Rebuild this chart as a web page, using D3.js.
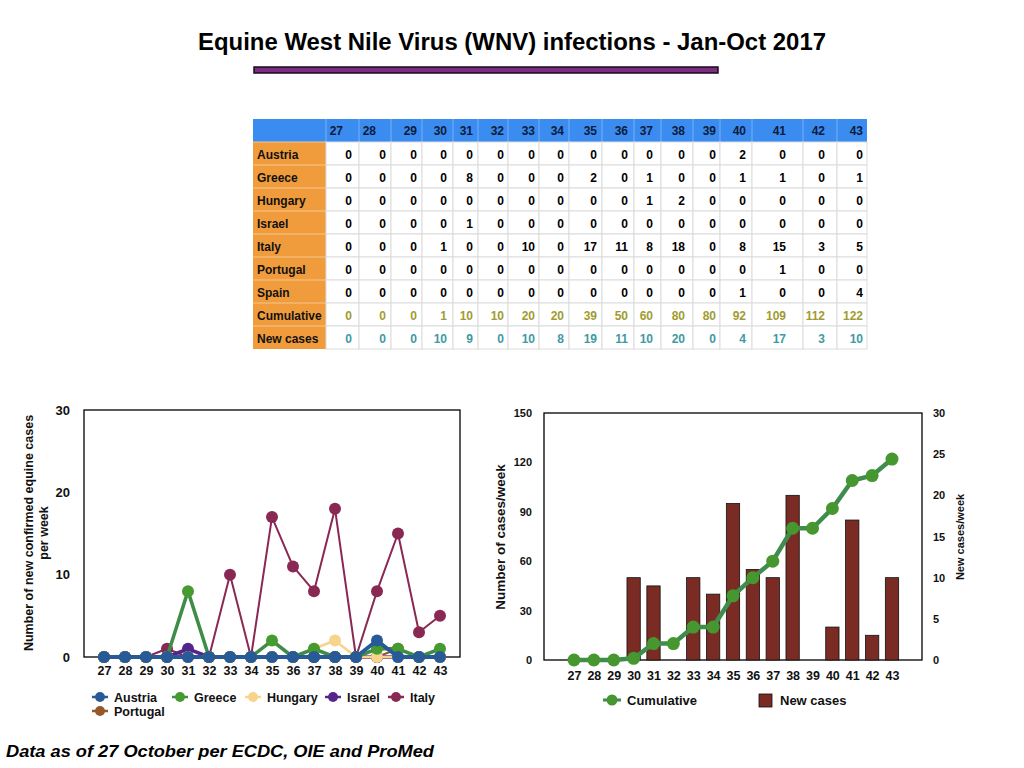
<!DOCTYPE html>
<html><head><meta charset="utf-8">
<script src="https://cdn.jsdelivr.net/npm/d3@7"></script>
<style>
html,body{margin:0;padding:0;background:#fff;}
svg{display:block;font-family:"Liberation Sans",Arial,Helvetica,sans-serif;font-weight:bold;}
</style></head>
<body>
<svg id="c" width="1024" height="768"></svg>
<script>
// ---------- DATA ----------
const weeks = ["27","28","29","30","31","32","33","34","35","36","37","38","39","40","41","42","43"];
const austria  = [0,0,0,0,0,0,0,0,0,0,0,0,0,2,0,0,0];
const greece   = [0,0,0,0,8,0,0,0,2,0,1,0,0,1,1,0,1];
const hungary  = [0,0,0,0,0,0,0,0,0,0,1,2,0,0,0,0,0];
const israel   = [0,0,0,0,1,0,0,0,0,0,0,0,0,0,0,0,0];
const italy    = [0,0,0,1,0,0,10,0,17,11,8,18,0,8,15,3,5];
const portugal = [0,0,0,0,0,0,0,0,0,0,0,0,0,0,1,0,0];
const spain    = [0,0,0,0,0,0,0,0,0,0,0,0,0,1,0,0,4];
const cumulative = [0,0,0,1,10,10,20,20,39,50,60,80,80,92,109,112,122];
const newCases   = [0,0,0,10,9,0,10,8,19,11,10,20,0,4,17,3,10];
const leftTicks  = [0,10,20,30];
const rightLTicks = [0,30,60,90,120,150];
const rightRTicks = [0,5,10,15,20,25,30];

const title = "Equine West Nile Virus (WNV) infections - Jan-Oct 2017";
const footer = "Data as of 27 October per ECDC, OIE and ProMed";

// ---------- LAYOUT ----------
const svg = d3.select("#c");

// Title
svg.append("text").attr("x",512).attr("y",50).attr("text-anchor","middle")
  .attr("font-size",23).attr("textLength",628).attr("lengthAdjust","spacingAndGlyphs")
  .attr("fill","#000").text(title);
svg.append("rect").attr("x",254).attr("y",67).attr("width",464).attr("height",6)
  .attr("fill","#7b2d82").attr("stroke","#1a0a1a").attr("stroke-width",1.5);

// ---------- TABLE ----------
const tableRows = [
  {name:"Austria", vals:austria, color:"#000"},
  {name:"Greece", vals:greece, color:"#000"},
  {name:"Hungary", vals:hungary, color:"#000"},
  {name:"Israel", vals:israel, color:"#000"},
  {name:"Italy", vals:italy, color:"#000"},
  {name:"Portugal", vals:portugal, color:"#000"},
  {name:"Spain", vals:spain, color:"#000"},
  {name:"Cumulative", vals:cumulative, color:"#a09c32"},
  {name:"New cases", vals:newCases, color:"#3e9aa4"}
];
const colEdges = [253,326,359,391,422,453,478,508,539,569,602,634,661,693,720,752,803,837,867];
const colTextX = [352,386,417,447,473,504,535,564,597,628,653,685,716,746,786,825,863];
const headTextX = [343,376,417,447,473,504,535,564,597,628,653,685,716,746,786,825,863];
const tTop = 119, hH = 23, rH = 23;
const tbl = svg.append("g").attr("font-size",12);
// header
tbl.append("rect").attr("x",colEdges[0]).attr("y",tTop).attr("width",colEdges[colEdges.length-1]-colEdges[0])
  .attr("height",hH).attr("fill","#3a8cf0");
weeks.forEach((w,i)=>{
  if(i>0) tbl.append("line").attr("x1",colEdges[i+1]).attr("x2",colEdges[i+1]).attr("y1",tTop).attr("y2",tTop+hH)
    .attr("stroke","#78b0f5").attr("stroke-width",1);
  tbl.append("text").attr("x",headTextX[i]).attr("y",tTop+16).attr("text-anchor","end").attr("fill","#0d1a3a").text(w);
});
tbl.append("line").attr("x1",colEdges[1]).attr("x2",colEdges[1]).attr("y1",tTop).attr("y2",tTop+hH)
    .attr("stroke","#78b0f5");
// body
tableRows.forEach((r,ri)=>{
  const y0 = tTop+hH+ri*rH;
  tbl.append("rect").attr("x",colEdges[0]).attr("y",y0).attr("width",colEdges[1]-colEdges[0]).attr("height",rH)
    .attr("fill","#f09c3c");
  tbl.append("line").attr("x1",colEdges[0]).attr("x2",colEdges[1]).attr("y1",y0).attr("y2",y0)
    .attr("stroke","#f6c690").attr("stroke-width",1);
  tbl.append("text").attr("x",257).attr("y",y0+17).attr("fill","#111").text(r.name);
  r.vals.forEach((v,ci)=>{
    tbl.append("rect").attr("x",colEdges[ci+1]).attr("y",y0).attr("width",colEdges[ci+2]-colEdges[ci+1]).attr("height",rH)
      .attr("fill","#fff").attr("stroke","#dcdcdc").attr("stroke-width",1);
    tbl.append("text").attr("x",colTextX[ci]).attr("y",y0+17).attr("text-anchor","end").attr("fill",r.color).text(v);
  });
});

// ---------- LEFT CHART ----------
const L = {left:84,right:460,top:410,bottom:657};
const xL = d3.scalePoint().domain(weeks).range([104,440]);
const yL = d3.scaleLinear().domain([0,30]).range([L.bottom,L.top]);
const gL = svg.append("g");
gL.append("rect").attr("x",L.left).attr("y",L.top).attr("width",L.right-L.left).attr("height",L.bottom-L.top)
  .attr("fill","none").attr("stroke","#000").attr("stroke-width",1.3);

const series = [
  {name:"Austria", vals:austria, color:"#275a96", lw:4, mc:"#275a96"},
  {name:"Greece", vals:greece, color:"#3e8c46", lw:3.5, mc:"#459a30"},
  {name:"Hungary", vals:hungary, color:"#f8d38c", lw:2.5, mc:"#f8d38c"},
  {name:"Israel", vals:israel, color:"#55258c", lw:3.5, mc:"#55258c"},
  {name:"Italy", vals:italy, color:"#8a2854", lw:2, mc:"#8a2854"},
  {name:"Portugal", vals:portugal, color:"#94582a", lw:2, mc:"#94582a"}
];
const lineGen = d3.line().x((d,i)=>xL(weeks[i])).y(d=>yL(d));
series.slice().reverse().forEach(s=>{
  const g = gL.append("g");
  g.append("path").attr("d",lineGen(s.vals)).attr("fill","none").attr("stroke",s.color).attr("stroke-width",s.lw)
    .attr("stroke-linejoin","round");
  g.selectAll("circle").data(s.vals).join("circle").attr("cx",(d,i)=>xL(weeks[i])).attr("cy",d=>yL(d))
    .attr("r",6).attr("fill",s.mc);
});
// axes
const axL = gL.append("g").attr("transform",`translate(${L.left},0)`)
  .call(d3.axisLeft(yL).tickValues(leftTicks).tickSize(0).tickPadding(14));
axL.select(".domain").remove();
axL.selectAll("text").attr("font-size",13).attr("font-weight","bold").attr("font-family","Liberation Sans, Arial, sans-serif").attr("fill","#111");
const axLx = gL.append("g").attr("transform",`translate(0,${L.bottom})`)
  .call(d3.axisBottom(xL).tickSize(0).tickPadding(9));
axLx.select(".domain").remove();
axLx.selectAll("text").attr("font-size",12.5).attr("font-weight","bold").attr("font-family","Liberation Sans, Arial, sans-serif").attr("fill","#111");
// y label
const ylab = gL.append("text").attr("transform","translate(33,533) rotate(-90)").attr("text-anchor","middle")
  .attr("font-size",12.5).attr("fill","#111");
ylab.append("tspan").attr("x",0).attr("y",0).text("Number of new confirmed equine cases");
ylab.append("tspan").attr("x",0).attr("y",15).text("per week");
// legend
const legPos = [[100,697],[180,697],[253,697],[333,697],[396,697],[100,711]];
series.forEach((s,i)=>{
  const [lx,ly] = legPos[i];
  gL.append("line").attr("x1",lx-8).attr("x2",lx+8).attr("y1",ly).attr("y2",ly).attr("stroke",s.color).attr("stroke-width",2.5);
  gL.append("circle").attr("cx",lx).attr("cy",ly).attr("r",5).attr("fill",s.mc);
  gL.append("text").attr("x",lx+14).attr("y",ly+4.5).attr("font-size",12.5).attr("fill","#111").text(s.name);
});

// ---------- RIGHT CHART ----------
const R = {left:544,right:922,top:413,bottom:660};
const xR = d3.scalePoint().domain(weeks).range([574,892]);
const yRL = d3.scaleLinear().domain([0,150]).range([R.bottom,R.top]);
const yRR = d3.scaleLinear().domain([0,30]).range([R.bottom,R.top]);
const gR = svg.append("g");
gR.append("rect").attr("x",R.left).attr("y",R.top).attr("width",R.right-R.left).attr("height",R.bottom-R.top)
  .attr("fill","none").attr("stroke","#000").attr("stroke-width",1.3);
const bw = 13.3;
gR.selectAll("rect.bar").data(newCases.map((v,i)=>({w:weeks[i],v})).filter(d=>d.v>0)).join("rect")
  .attr("class","bar").attr("x",d=>xR(d.w)-bw/2).attr("y",d=>yRR(d.v)).attr("width",bw)
  .attr("height",d=>yRR(0)-yRR(d.v)).attr("fill","#7a2b23").attr("stroke","#111").attr("stroke-width",0.8);
const cumLine = d3.line().x((d,i)=>xR(weeks[i])).y(d=>yRL(d));
gR.append("path").attr("d",cumLine(cumulative)).attr("fill","none").attr("stroke","#3f8c4c").attr("stroke-width",4.5)
  .attr("stroke-linejoin","round");
gR.selectAll("circle").data(cumulative).join("circle").attr("cx",(d,i)=>xR(weeks[i])).attr("cy",d=>yRL(d))
  .attr("r",6.5).attr("fill","#46972f");
const axRL = gR.append("g").attr("transform",`translate(${R.left},0)`)
  .call(d3.axisLeft(yRL).tickValues(rightLTicks).tickSize(0).tickPadding(12));
axRL.select(".domain").remove();
const axRR = gR.append("g").attr("transform",`translate(${R.right},0)`)
  .call(d3.axisRight(yRR).tickValues(rightRTicks).tickSize(0).tickPadding(11));
axRR.select(".domain").remove();
[axRL,axRR].forEach(a=>a.selectAll("text").attr("font-size",11).attr("font-weight","bold").attr("font-family","Liberation Sans, Arial, sans-serif").attr("fill","#111"));
const axRx = gR.append("g").attr("transform",`translate(0,${R.bottom})`)
  .call(d3.axisBottom(xR).tickSize(0).tickPadding(11));
axRx.select(".domain").remove();
axRx.selectAll("text").attr("font-size",12.5).attr("font-weight","bold").attr("font-family","Liberation Sans, Arial, sans-serif").attr("fill","#111");
gR.append("text").attr("transform","translate(505,537) rotate(-90)").attr("text-anchor","middle")
  .attr("font-size",13.5).attr("fill","#111").text("Number of cases/week");
gR.append("text").attr("transform","translate(964,537) rotate(-90)").attr("text-anchor","middle")
  .attr("font-size",11).attr("fill","#111").text("New cases/week");
// legend
gR.append("line").attr("x1",603).attr("x2",621).attr("y1",700).attr("y2",700).attr("stroke","#3f8c4c").attr("stroke-width",3);
gR.append("circle").attr("cx",612).attr("cy",700).attr("r",5.5).attr("fill","#46972f");
gR.append("text").attr("x",627).attr("y",705).attr("font-size",13).attr("fill","#111").text("Cumulative");
gR.append("rect").attr("x",759).attr("y",694).attr("width",13).attr("height",13).attr("fill","#7a2b23").attr("stroke","#111").attr("stroke-width",0.8);
gR.append("text").attr("x",780).attr("y",705).attr("font-size",13).attr("fill","#111").text("New cases");

// Footer
svg.append("text").attr("x",6).attr("y",757).attr("font-size",17).attr("font-style","italic")
  .attr("textLength",428).attr("lengthAdjust","spacingAndGlyphs").attr("fill","#000").text(footer);
</script>
</body></html>
